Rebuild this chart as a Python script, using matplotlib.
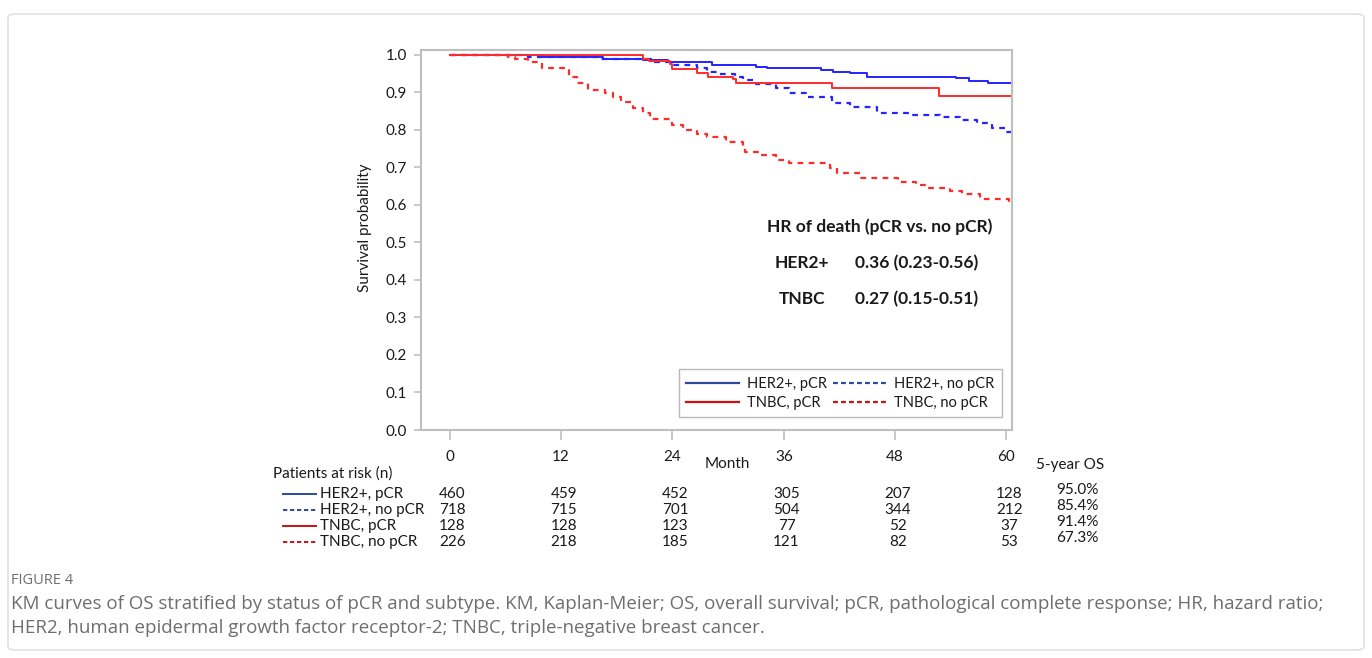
import numpy as np
import matplotlib
matplotlib.use('Agg')
import matplotlib.pyplot as plt
from matplotlib.lines import Line2D
from matplotlib.patches import FancyBboxPatch
from matplotlib.transforms import blended_transform_factory

plt.rcParams['font.family'] = ['Lato', 'DejaVu Sans']

# Kaplan-Meier step points (months, survival)
her2_pcr_t = [0, 10, 16.5, 20.8, 23.5, 28.3, 33, 34.2, 40, 41.3, 43.1, 45, 54.6, 56, 58, 60.6]
her2_pcr_s = [1.0, 0.995, 0.99, 0.987, 0.982, 0.972, 0.968, 0.964, 0.96, 0.955, 0.951, 0.942,
              0.938, 0.931, 0.924, 0.924]

her2_nopcr_t = [0, 8.4, 16, 21.9, 23.7, 26.6, 27.7, 28.8, 30.7, 31.6, 33, 35.2, 36.6, 38.4,
                41.2, 43.1, 46, 49.6, 52.8, 55, 56.8, 58.4, 60, 60.6]
her2_nopcr_s = [1.0, 0.995, 0.99, 0.982, 0.973, 0.964, 0.955, 0.948, 0.94, 0.933, 0.922, 0.911,
                0.898, 0.887, 0.871, 0.862, 0.846, 0.84, 0.834, 0.827, 0.818, 0.804, 0.794, 0.794]

tnbc_pcr_t = [0, 20.8, 21.5, 23.7, 24, 26.6, 27.8, 30.5, 30.9, 41.2, 52.7, 60.6]
tnbc_pcr_s = [1.0, 0.989, 0.985, 0.975, 0.963, 0.951, 0.94, 0.935, 0.924, 0.911, 0.891, 0.891]

tnbc_nopcr_t = [0, 6.3, 7, 8.4, 9.9, 12.9, 13.7, 14.9, 16.7, 17.6, 18.5, 19.7, 20.8, 21.6, 24,
                25.1, 26.6, 27.7, 29.8, 31.6, 31.8, 33.4, 35.2, 36.6, 41, 41.7, 44.2, 48.3, 50.3,
                51.4, 53.9, 55.2, 57.1, 60.3, 60.6]
tnbc_nopcr_s = [1.0, 0.995, 0.989, 0.98, 0.964, 0.94, 0.924, 0.907, 0.898, 0.889, 0.874, 0.858,
                0.845, 0.829, 0.813, 0.8, 0.789, 0.78, 0.767, 0.751, 0.74, 0.733, 0.72, 0.711,
                0.698, 0.686, 0.671, 0.662, 0.653, 0.644, 0.637, 0.629, 0.616, 0.607, 0.607]

# at-risk table
months = [0, 12, 24, 36, 48, 60]
groups = ['HER2+, pCR', 'HER2+, no pCR', 'TNBC, pCR', 'TNBC, no pCR']
risk_her2_pcr = [460, 459, 452, 305, 207, 128]
risk_her2_nopcr = [718, 715, 701, 504, 344, 212]
risk_tnbc_pcr = [128, 128, 123, 77, 52, 37]
risk_tnbc_nopcr = [226, 218, 185, 121, 82, 53]
os5 = ['95.0%', '85.4%', '91.4%', '67.3%']

hr_groups = ['HER2+', 'TNBC']
hr_values = ['0.36 (0.23-0.56)', '0.27 (0.15-0.51)']

W, H = 1372, 658
def fx(p):
    return p / W
def fy(p):
    return 1 - p / H

blue = '#2424ff'
red = '#ff2b2b'
blue_dk = '#2a4a9c'
red_dk = '#cc1111'
dash = (0, (2.6, 2.4))
txt = '#1a1a1a'
grey = '#bfbfbf'

fig = plt.figure(figsize=(13.72, 6.58), dpi=100)

# outer frame
fig.patches.append(FancyBboxPatch((fx(8), fy(650)), fx(1356), fy(14) - fy(650),
                                  boxstyle='round,pad=0,rounding_size=0.006',
                                  transform=fig.transFigure, fill=False,
                                  edgecolor='#dcdcdc', linewidth=1.0))

ax = fig.add_axes([fx(421), fy(430), fx(1012) - fx(421), fy(50) - fy(430)])
ax.step(her2_pcr_t, her2_pcr_s, where='post', color=blue, lw=1.4)
ax.step(her2_nopcr_t, her2_nopcr_s, where='post', color=blue, lw=1.6, linestyle=dash)
ax.step(tnbc_pcr_t, tnbc_pcr_s, where='post', color=red, lw=1.4)
ax.step(tnbc_nopcr_t, tnbc_nopcr_s, where='post', color=red, lw=1.6, linestyle=dash)

ax.set_xlim(-3.1, 60.6)
ax.set_ylim(0, 1.0133)
ax.set_yticks(np.arange(0, 1.01, 0.1))
ax.set_yticklabels([f'{v:.1f}' for v in np.arange(0, 1.01, 0.1)])
ax.set_xticks(months)
ax.set_xticklabels([str(m) for m in months])
ax.tick_params(axis='y', length=5, width=1.2, color=grey, labelsize=11, labelcolor=txt, pad=5)
ax.tick_params(axis='x', length=7.5, width=1.2, color=grey, labelsize=11, labelcolor=txt, pad=7)
for s in ax.spines.values():
    s.set_color(grey)
    s.set_linewidth(1.5)

fig.text(fx(365), fy(228), 'Survival probability', rotation=90, ha='center', va='center',
         fontsize=11, color=txt)

# HR box text
fig.text(fx(880), fy(227), 'HR of death (pCR vs. no pCR)', ha='center', va='center',
         fontsize=12.5, fontweight='bold', color=txt)
for i, (g, v) in enumerate(zip(hr_groups, hr_values)):
    yy = 263 + i * 36
    fig.text(fx(802), fy(yy), g, ha='center', va='center', fontsize=12.5,
             fontweight='bold', color=txt)
    fig.text(fx(855), fy(yy), v, ha='left', va='center', fontsize=12.5,
             fontweight='bold', color=txt)

# legend inside plot
handles = [Line2D([], [], color=blue_dk, lw=1.6),
           Line2D([], [], color=blue_dk, lw=1.6, linestyle=(0, (2.2, 1.4))),
           Line2D([], [], color=red_dk, lw=1.6),
           Line2D([], [], color=red_dk, lw=1.6, linestyle=(0, (2.2, 1.4)))]
leg = ax.legend([handles[0], handles[2], handles[1], handles[3]],
                [groups[0], groups[2], groups[1], groups[3]],
                ncol=2, loc='lower right', bbox_to_anchor=(0.983, 0.034),
                fontsize=10.5, frameon=True, fancybox=False, handlelength=3.6,
                handletextpad=0.6, columnspacing=0.4, labelspacing=0.35,
                borderpad=0.5, borderaxespad=0)
leg.get_frame().set_edgecolor('#a6a6a6')
leg.get_frame().set_linewidth(1.0)
for t in leg.get_texts():
    t.set_color(txt)

# at-risk table
fig.text(fx(727), fy(464), 'Month', ha='center', va='center', fontsize=11, color=txt)
fig.text(fx(1070), fy(465), '5-year OS', ha='center', va='center', fontsize=11, color=txt)
fig.text(fx(273), fy(474), 'Patients at risk (n)', ha='left', va='center', fontsize=11, color=txt)

tr = blended_transform_factory(ax.transData, fig.transFigure)
rows = [risk_her2_pcr, risk_her2_nopcr, risk_tnbc_pcr, risk_tnbc_nopcr]
row_colors = [blue_dk, blue_dk, red_dk, red_dk]
row_styles = ['-', (0, (2.2, 1.4)), '-', (0, (2.2, 1.4))]
row_y = [494, 510, 526, 542]
for i, vals in enumerate(rows):
    yy = row_y[i]
    fig.add_artist(Line2D([fx(283), fx(316)], [fy(yy), fy(yy)], color=row_colors[i], lw=1.4,
                          linestyle=row_styles[i], transform=fig.transFigure))
    fig.text(fx(320), fy(yy), groups[i], ha='left', va='center', fontsize=11, color=txt)
    for m, v in zip(months, vals):
        fig.text(m + 0.3, fy(yy), str(v), ha='center', va='center', fontsize=11,
                 color=txt, transform=tr)
    fig.text(fx(1077), fy(yy - 4), os5[i], ha='center', va='center', fontsize=11, color=txt)

# caption
cap = '#6e6e6e'
fig.text(fx(11), fy(580), 'FIGURE 4', ha='left', va='center', fontsize=10.5,
         color=cap, family='Open Sans')
fig.text(fx(11), fy(604), 'KM curves of OS stratified by status of pCR and subtype. KM, Kaplan-Meier; '
         'OS, overall survival; pCR, pathological complete response; HR, hazard ratio;',
         ha='left', va='center', fontsize=13.5, color=cap, family='Open Sans')
fig.text(fx(11), fy(628), 'HER2, human epidermal growth factor receptor-2; TNBC, triple-negative breast cancer.',
         ha='left', va='center', fontsize=13.5, color=cap, family='Open Sans')

fig.savefig('out.png', dpi=100)
